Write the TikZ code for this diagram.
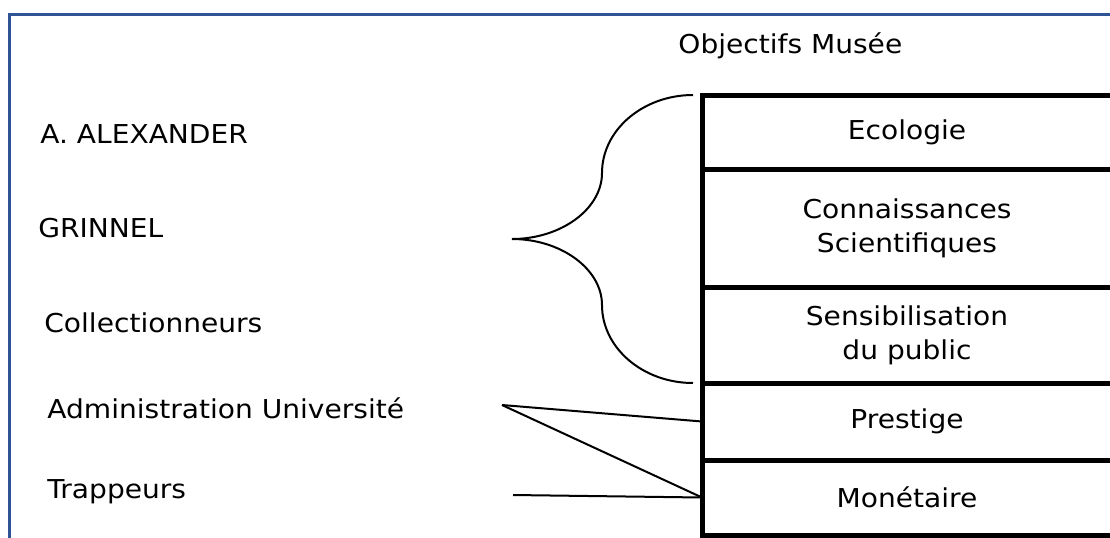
\documentclass[tikz,border=0pt]{standalone}
\usepackage{fontspec}
\setmainfont{DejaVu Sans}[FakeStretch=1.08]
\usetikzlibrary{positioning,calc}
\definecolor{framebl}{RGB}{47,84,150}
\tikzset{
    actor/.style =  {anchor=west,
                    inner sep=0pt,
                    text=black,
                    font=\fontsize{13}{17}\selectfont},
    title/.style =  {anchor=west,
                    inner sep=0pt,
                    text=black,
                    font=\fontsize{13}{17}\selectfont},
    objbox/.style = {rectangle,
                    draw=black,
                    text=black,
                    line width=2.5pt,
                    outer sep=0pt,
                    inner sep=0pt,
                    minimum width=205pt,
                    align=center,
                    font=\fontsize{13}{17}\selectfont},
    link/.style =   {draw=black,
                    line width=1pt},
    brace/.style =  {draw=black,
                    line width=1pt},
    frame/.style =  {draw=framebl,
                    line width=1.5pt},
    -,
    node distance=0pt}
\begin{document}
\begin{tikzpicture}[x=0.5pt,y=-0.5pt]
        \useasboundingbox (0,0) rectangle (1110,537);
        \clip (0,0) rectangle (1110,537);
        \draw[frame] (9.5,540) |- (1115,14);
        % objectifs
        \node[title]        (obj)   at (678,46)             {Objectifs Musée};
        \node[objbox,minimum height=37pt,anchor=north west] (eco) at (702,95) {Ecologie};
        \node[objbox,minimum height=59pt]   (sci)   [below=of eco]  {Connaissances\\Scientifiques};
        \node[objbox,minimum height=48pt]   (sens)  [below=of sci]  {Sensibilisation\\du public};
        \node[objbox,minimum height=38.5pt] (prest) [below=of sens] {Prestige};
        \node[objbox,minimum height=37.5pt] (mon)   [below=of prest] {Monétaire};
        % acteurs
        \node[actor]        (alex)  at (40,134)     {A. ALEXANDER};
        \node[actor]        (grin)  at (38,228)     {GRINNEL};
        \node[actor]        (coll)  at (44,323)     {Collectionneurs};
        \node[actor]        (admin) at (47,408)     {Administration Université};
        \node[actor]        (trap)  at (47,492)     {Trappeurs};
        % accolade
        \coordinate (bracetop) at (693,95);
        \coordinate (bracetip) at (512,239);
        \coordinate (bracebot) at (693,383);
        \draw[brace] (bracetop) .. controls (643,95) and (602,130) .. (602,173)
                     .. controls (602,209) and (561,239) .. (bracetip)
                     .. controls (561,239) and (602,269) .. (602,305)
                     .. controls (602,348) and (643,383) .. (bracebot);
        % liens
        \coordinate (adminpt) at (502,405);
        \coordinate (trappt)  at (513,495);
        \path [link]    (adminpt) edge (prest.west)
                        (adminpt) edge (mon.west)
                        (trappt)  edge (mon.west);
\end{tikzpicture}
\end{document}
